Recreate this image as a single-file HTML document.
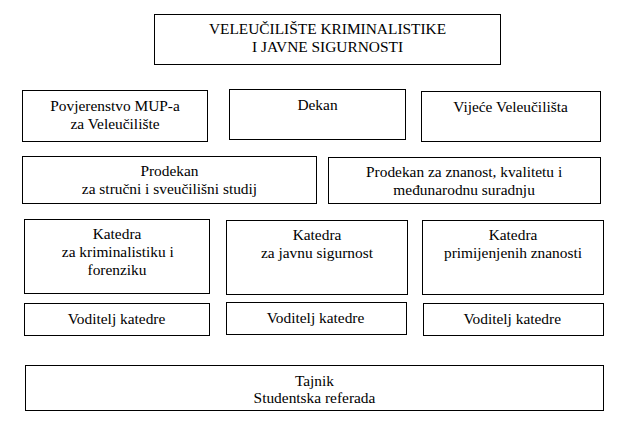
<!DOCTYPE html>
<html><head><meta charset="utf-8"><style>
html,body{margin:0;padding:0;background:#fff;}
body{width:627px;height:426px;position:relative;overflow:hidden;font-family:"Liberation Serif",serif;font-size:15.4px;color:#000;}
.b{position:absolute;border:1px solid #000;box-sizing:border-box;}
.t{position:absolute;white-space:nowrap;text-align:center;line-height:18px;height:18px;}
</style></head><body>

<div class="b" style="left:154px;top:14px;width:347px;height:51px"></div>
<div class="t" style="left:154px;width:347px;top:19.50px">VELEUČILIŠTE KRIMINALISTIKE</div>
<div class="t" style="left:154px;width:347px;top:37.80px">I JAVNE SIGURNOSTI</div>
<div class="b" style="left:22px;top:90px;width:186px;height:52px"></div>
<div class="t" style="left:22px;width:186px;top:96.80px">Povjerenstvo MUP-a</div>
<div class="t" style="left:22px;width:186px;top:114.80px">za Veleučilište</div>
<div class="b" style="left:229px;top:89px;width:177px;height:51px"></div>
<div class="t" style="left:229px;width:177px;top:95.80px">Dekan</div>
<div class="b" style="left:421px;top:91px;width:180px;height:51px"></div>
<div class="t" style="left:420.5px;width:180px;top:97.50px">Vijeće Veleučilišta</div>
<div class="b" style="left:22px;top:156px;width:295px;height:48px"></div>
<div class="t" style="left:22px;width:295px;top:161.60px">Prodekan</div>
<div class="t" style="left:22px;width:295px;top:179.50px">za stručni i sveučilišni studij</div>
<div class="b" style="left:328px;top:157px;width:273px;height:47px"></div>
<div class="t" style="left:327.6px;width:273px;top:162.50px">Prodekan za znanost, kvalitetu i</div>
<div class="t" style="left:327.6px;width:273px;top:180.50px">međunarodnu suradnju</div>
<div class="b" style="left:24px;top:219px;width:186px;height:75px"></div>
<div class="t" style="left:24px;width:186px;top:224.50px">Katedra</div>
<div class="t" style="left:24.8px;width:186px;top:242.50px">za kriminalistiku i</div>
<div class="t" style="left:24px;width:186px;top:261.30px">forenziku</div>
<div class="b" style="left:226px;top:220px;width:182px;height:75px"></div>
<div class="t" style="left:226px;width:182px;top:225.50px">Katedra</div>
<div class="t" style="left:226px;width:182px;top:243.60px">za javnu sigurnost</div>
<div class="b" style="left:422px;top:220px;width:182px;height:75px"></div>
<div class="t" style="left:422px;width:182px;top:225.50px">Katedra</div>
<div class="t" style="left:422px;width:182px;top:243.50px">primijenjenih znanosti</div>
<div class="b" style="left:24px;top:303px;width:186px;height:33px"></div>
<div class="t" style="left:23.5px;width:186px;top:309.50px">Voditelj katedre</div>
<div class="b" style="left:226px;top:302px;width:181px;height:33px"></div>
<div class="t" style="left:225px;width:181px;top:308.50px">Voditelj katedre</div>
<div class="b" style="left:423px;top:303px;width:181px;height:33px"></div>
<div class="t" style="left:421.7px;width:181px;top:310.10px">Voditelj katedre</div>
<div class="b" style="left:25px;top:365px;width:579px;height:46px"></div>
<div class="t" style="left:25px;width:579px;top:371.80px">Tajnik</div>
<div class="t" style="left:25px;width:579px;top:388.60px">Studentska referada</div>
</body></html>
